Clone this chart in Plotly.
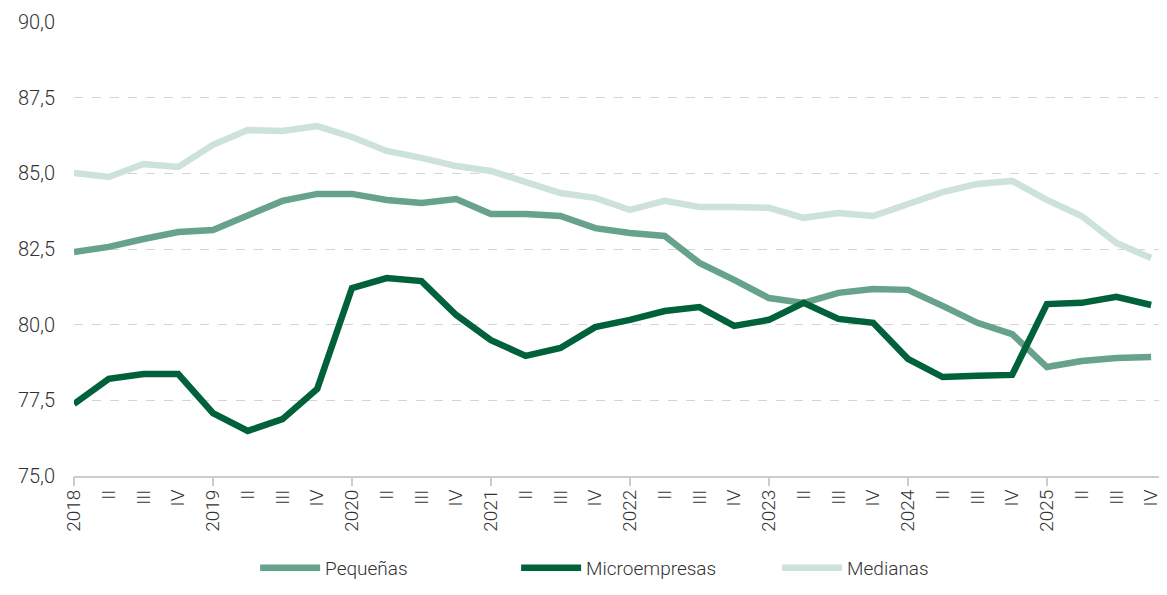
import plotly.graph_objects as go

quarters = ["2018", "II", "III", "IV", "2019", "II", "III", "IV",
            "2020", "II", "III", "IV", "2021", "II", "III", "IV",
            "2022", "II", "III", "IV", "2023", "II", "III", "IV",
            "2024", "II", "III", "IV", "2025", "II", "III", "IV"]

pequenas = [82.40, 82.57, 82.83, 83.06, 83.13, 83.62, 84.09, 84.32,
            84.32, 84.12, 84.02, 84.15, 83.66, 83.66, 83.59, 83.19,
            83.03, 82.93, 82.04, 81.48, 80.88, 80.72, 81.05, 81.18,
            81.15, 80.62, 80.06, 79.69, 78.60, 78.80, 78.90, 78.93]

micro = [77.38, 78.21, 78.37, 78.37, 77.08, 76.49, 76.88, 77.88,
         81.21, 81.54, 81.44, 80.32, 79.49, 78.97, 79.23, 79.92,
         80.16, 80.45, 80.58, 79.96, 80.16, 80.72, 80.19, 80.06,
         78.87, 78.27, 78.31, 78.34, 80.68, 80.72, 80.92, 80.65]

medianas = [85.01, 84.88, 85.31, 85.21, 85.94, 86.43, 86.40, 86.56,
            86.20, 85.74, 85.51, 85.24, 85.08, 84.71, 84.35, 84.19,
            83.79, 84.09, 83.89, 83.89, 83.86, 83.53, 83.69, 83.59,
            83.99, 84.38, 84.65, 84.75, 84.12, 83.59, 82.70, 82.20]

y_ticks = [75.0, 77.5, 80.0, 82.5, 85.0, 87.5, 90.0]

idx = list(range(len(quarters)))
year_idx = [i for i, q in enumerate(quarters) if q.isdigit()]

fig = go.Figure()
series = [
    ("Pequeñas", pequenas, "#67a28b"),
    ("Microempresas", micro, "#00613b"),
    ("Medianas", medianas, "#cde2d8"),
]
for name, vals, color in series:
    fig.add_trace(go.Scatter(x=idx, y=vals, name=name, mode="lines",
                             line={"color": color, "width": 6.5}))

# invisible trace so the second axis (year tick marks) gets drawn
fig.add_trace(go.Scatter(x=[0], y=[75], xaxis="x2", mode="lines",
                         line={"width": 0}, showlegend=False, hoverinfo="skip"))

# page body has an 8px margin, so the figure is sized/offset to compensate
fig.update_layout(
    width=1159, height=579,
    margin={"l": 66, "r": 2, "t": 14, "b": 111, "autoexpand": False},
    paper_bgcolor="#ffffff",
    plot_bgcolor="#ffffff",
    font={"family": "Roboto, sans-serif", "color": "#333333", "size": 19,
          "weight": 300},
    showlegend=True,
    legend={"orientation": "h", "x": 0.166, "xanchor": "left",
            "yref": "container", "y": 0.0, "yanchor": "bottom",
            "font": {"size": 19, "weight": 300},
            "itemwidth": 60, "entrywidth": 186, "entrywidthmode": "pixels"},
    xaxis={
        "range": [0, 31.4], "tickvals": idx, "ticktext": quarters,
        "tickangle": -90, "ticks": "", "showgrid": False,
        "showline": True, "linecolor": "#cccccc", "linewidth": 2,
        "tickfont": {"size": 19, "weight": 300}, "zeroline": False,
        "ticklabelstandoff": 4,
    },
    xaxis2={
        "range": [0, 31.4], "overlaying": "x", "side": "bottom",
        "tickvals": year_idx, "showticklabels": False, "ticks": "outside",
        "ticklen": 9, "tickcolor": "#cccccc", "tickwidth": 2,
        "showgrid": False, "showline": False, "zeroline": False,
    },
    yaxis={
        "range": [75, 90], "tickvals": y_ticks,
        "ticktext": [f"{v:.1f}".replace(".", ",") for v in y_ticks],
        "showgrid": True, "gridcolor": "#d4d4d4", "griddash": "dash",
        "gridwidth": 1, "zeroline": False, "showline": False,
        "tickfont": {"size": 20, "weight": 300}, "ticks": "",
        "ticklabelstandoff": 18,
    },
)

fig.write_html("out.html")
